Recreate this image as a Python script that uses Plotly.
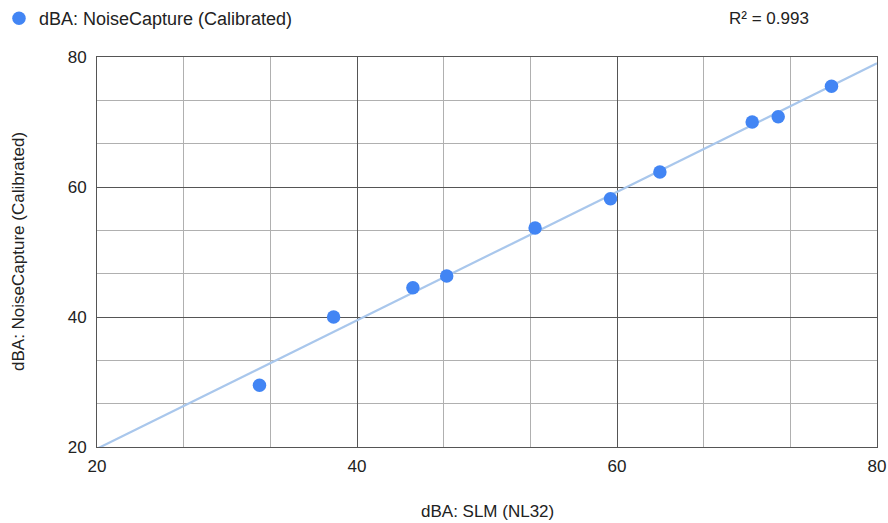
import numpy as np
import plotly.graph_objects as go

slm_nl32 = [32.5, 38.2, 44.3, 46.9, 53.7, 59.5, 63.3, 70.4, 72.4, 76.5]
noisecapture_cal = [29.5, 40.0, 44.5, 46.3, 53.7, 58.2, 62.3, 70.0, 70.8, 75.5]
r_squared_label = "R² = 0.993"
series_name = "dBA: NoiseCapture (Calibrated)"
x_title = "dBA: SLM (NL32)"
y_title = "dBA: NoiseCapture (Calibrated)"
tick_vals = [20, 40, 60, 80]

slope, intercept = np.polyfit(slm_nl32, noisecapture_cal, 1)
trend_x = [20, 80]
trend_y = [slope * v + intercept for v in trend_x]

FONT = "Liberation Sans, Arial, sans-serif"
MAJOR = "#555555"
MINOR = "#b0b0b0"
FS = 17

fig = go.Figure()
fig.add_trace(go.Scatter(
    x=trend_x, y=trend_y, mode="lines",
    line=dict(color="#a9c7ec", width=2.2),
    showlegend=False, hoverinfo="skip"))
fig.add_trace(go.Scatter(
    x=slm_nl32, y=noisecapture_cal, mode="markers", name=series_name,
    marker=dict(color="#4285f4", size=13.5, line=dict(width=0))))

axis_common = dict(
    range=[20, 80], tickvals=tick_vals, ticks="", showgrid=True,
    gridcolor=MAJOR, gridwidth=1, zeroline=False,
    showline=True, linecolor=MAJOR, linewidth=1, mirror=True,
    tickfont=dict(family=FONT, size=FS, color="#222222"),
    minor=dict(tick0=20, dtick=20 / 3, showgrid=True, gridcolor=MINOR, gridwidth=1, ticks=""),
)
fig.update_layout(
    width=888, height=523,
    margin=dict(l=97, r=11, t=57, b=76, autoexpand=False),
    paper_bgcolor="white", plot_bgcolor="white",
    font=dict(family=FONT, size=FS, color="#222222"),
    xaxis=dict(**axis_common, ticklabelstandoff=4),
    yaxis=dict(**axis_common, ticklabelstandoff=6),
    showlegend=True,
    legend=dict(x=(-1 - 97) / 780, xanchor="left", y=1.146, yanchor="top",
                orientation="h", font=dict(family=FONT, size=18, color="#222222"),
                bgcolor="rgba(0,0,0,0)", itemsizing="trace"),
    annotations=[
        dict(text=r_squared_label, xref="paper", yref="paper",
             x=(727 - 97) / 780, y=(447 - 19) / 390, xanchor="left", yanchor="middle",
             showarrow=False, font=dict(family=FONT, size=FS, color="#222222")),
        dict(text=x_title, xref="paper", yref="paper",
             x=(487 - 97) / 780, y=(447 - 511) / 390, xanchor="center", yanchor="middle",
             showarrow=False, font=dict(family=FONT, size=FS, color="#222222")),
        dict(text=y_title, xref="paper", yref="paper", textangle=-90,
             x=(18 - 97) / 780, y=(447 - 252) / 390, xanchor="center", yanchor="middle",
             showarrow=False, font=dict(family=FONT, size=FS, color="#222222")),
    ],
)
fig.write_html("out.html", config={"displayModeBar": False},
               post_script="document.body.style.margin='0';")
